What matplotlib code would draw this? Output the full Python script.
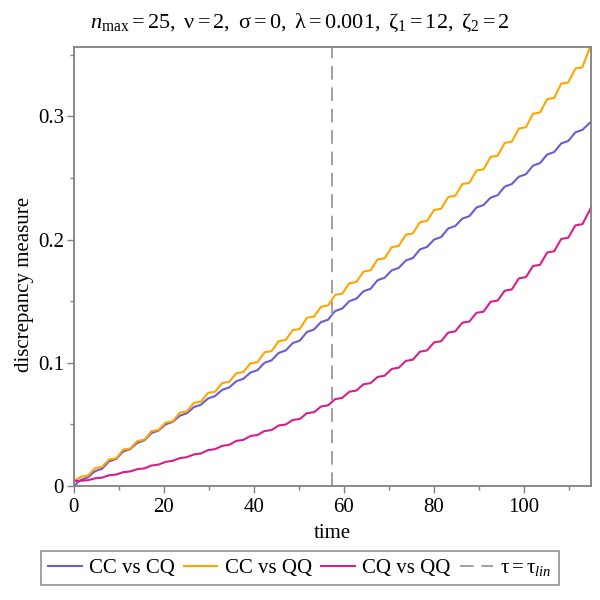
import numpy as np
import matplotlib
matplotlib.use('Agg')
import matplotlib.pyplot as plt
from matplotlib.ticker import MultipleLocator, FuncFormatter

plt.rcParams['font.family'] = 'Liberation Serif'
plt.rcParams['mathtext.fontset'] = 'custom'
plt.rcParams['mathtext.rm'] = 'Liberation Serif'
plt.rcParams['mathtext.it'] = 'Liberation Serif:italic'

# sample times (half a wiggle apart)
time = np.append(np.arange(0, 115, np.pi / 2), 115.0)

cc_cq = [0.000,
         0.005, 0.007, 0.012, 0.014, 0.020, 0.022, 0.028, 0.030, 0.035, 0.037,
         0.043, 0.045, 0.050, 0.052, 0.057, 0.059, 0.064, 0.066, 0.071, 0.073,
         0.078, 0.080, 0.085, 0.087, 0.092, 0.094, 0.100, 0.102, 0.108, 0.110,
         0.116, 0.118, 0.125, 0.127, 0.133, 0.135, 0.142, 0.144, 0.150, 0.152,
         0.158, 0.160, 0.167, 0.169, 0.175, 0.177, 0.183, 0.185, 0.192, 0.194,
         0.200, 0.202, 0.209, 0.211, 0.217, 0.219, 0.226, 0.228, 0.234, 0.236,
         0.243, 0.245, 0.251, 0.253, 0.260, 0.262, 0.269, 0.271, 0.278, 0.280,
         0.287, 0.289, 0.2945, 0.2955]

cc_qq = [0.004,
         0.0075, 0.0085, 0.0145, 0.0155, 0.0215, 0.0225, 0.0295, 0.0305,
         0.0365, 0.0375, 0.0445, 0.0455, 0.0515, 0.0525, 0.0595, 0.0605,
         0.0675, 0.0685, 0.0755, 0.0765, 0.0835, 0.0845, 0.0915, 0.0925,
         0.0995, 0.1005, 0.1085, 0.1095, 0.1175, 0.1185, 0.1265, 0.1275,
         0.1365, 0.1375, 0.1455, 0.1465, 0.1551, 0.1561, 0.1645, 0.1655,
         0.1740, 0.1750, 0.1838, 0.1848, 0.1938, 0.1948, 0.2039, 0.2049,
         0.2141, 0.2151, 0.2240, 0.2250, 0.2345, 0.2355, 0.2450, 0.2460,
         0.2560, 0.2570, 0.2670, 0.2680, 0.2784, 0.2794, 0.2901, 0.2911,
         0.3021, 0.3031, 0.3139, 0.3149, 0.3265, 0.3275, 0.3388, 0.3398,
         0.3550, 0.3530]

cq_qq = [0.004,
         0.0043, 0.0047, 0.0062, 0.0068, 0.0087, 0.0093, 0.0112, 0.0118,
         0.0137, 0.0143, 0.0166, 0.0174, 0.0196, 0.0204, 0.0226, 0.0234,
         0.0256, 0.0264, 0.0291, 0.0299, 0.0326, 0.0334, 0.0366, 0.0374,
         0.0406, 0.0414, 0.0446, 0.0454, 0.0491, 0.0499, 0.0536, 0.0544,
         0.0591, 0.0599, 0.0645, 0.0655, 0.0705, 0.0715, 0.0765, 0.0775,
         0.0825, 0.0835, 0.0885, 0.0895, 0.0950, 0.0960, 0.1015, 0.1025,
         0.1090, 0.1100, 0.1165, 0.1175, 0.1245, 0.1255, 0.1325, 0.1335,
         0.1405, 0.1415, 0.1495, 0.1505, 0.1585, 0.1595, 0.1685, 0.1695,
         0.1785, 0.1795, 0.1895, 0.1905, 0.2005, 0.2015, 0.2115, 0.2125,
         0.2235, 0.2260]

tau_lin = 57.4

fig = plt.figure(figsize=(6, 6), dpi=100)
ax = fig.add_axes([0.123, 0.19, 0.862, 0.732])

ax.plot(time, cc_cq, color='#6c5cd4', lw=1.5, label='CC vs CQ')
ax.plot(time, cc_qq, color='#ffa500', lw=1.5, label='CC vs QQ')
ax.plot(time, cq_qq, color='#d41f8c', lw=1.5, label='CQ vs QQ')
ax.axvline(tau_lin, color='#a0a0a0', lw=1.4, dashes=(7, 4),
           label=r'$\mathrm{τ = τ}_{\mathit{lin}}$')

ax.set_xlim(0, 115)
ax.set_ylim(0, 0.3564)
ax.xaxis.set_major_locator(MultipleLocator(20))
ax.xaxis.set_minor_locator(MultipleLocator(10))
ax.yaxis.set_major_locator(MultipleLocator(0.1))
ax.yaxis.set_minor_locator(MultipleLocator(0.05))
ax.yaxis.set_major_formatter(FuncFormatter(lambda v, _: f'{v:g}'))

for s in ax.spines.values():
    s.set_color('#808080')
    s.set_linewidth(1.3)
ax.tick_params(which='both', direction='out', color='#808080', labelsize=15)
ax.tick_params(which='major', length=5, width=1)
ax.tick_params(which='minor', length=3, width=1)
ax.tick_params(axis='y', which='major', pad=2)

ax.set_xlabel('time', fontsize=15, labelpad=5)
ax.set_ylabel('discrepancy measure', fontsize=15)
ax.yaxis.set_label_coords(-0.076, 0.46)

fig.text(0.5, 0.962,
         r'$n_{\mathrm{max}}\mathrm{= 25,\ ν = 2,\ σ = 0,\ λ = 0.001,\ ζ_1 = 12,\ ζ_2 = 2}$',
         ha='center', va='center', fontsize=16)

leg = fig.legend(loc='center', bbox_to_anchor=(0.5, 0.053), ncol=4, fontsize=15,
                 frameon=True, fancybox=False, handlelength=1.6, handletextpad=0.35,
                 columnspacing=0.45, borderpad=0.35)
leg.get_frame().set_edgecolor('#808080')
leg.get_frame().set_linewidth(1.3)

plt.savefig('out.png', dpi=100)
